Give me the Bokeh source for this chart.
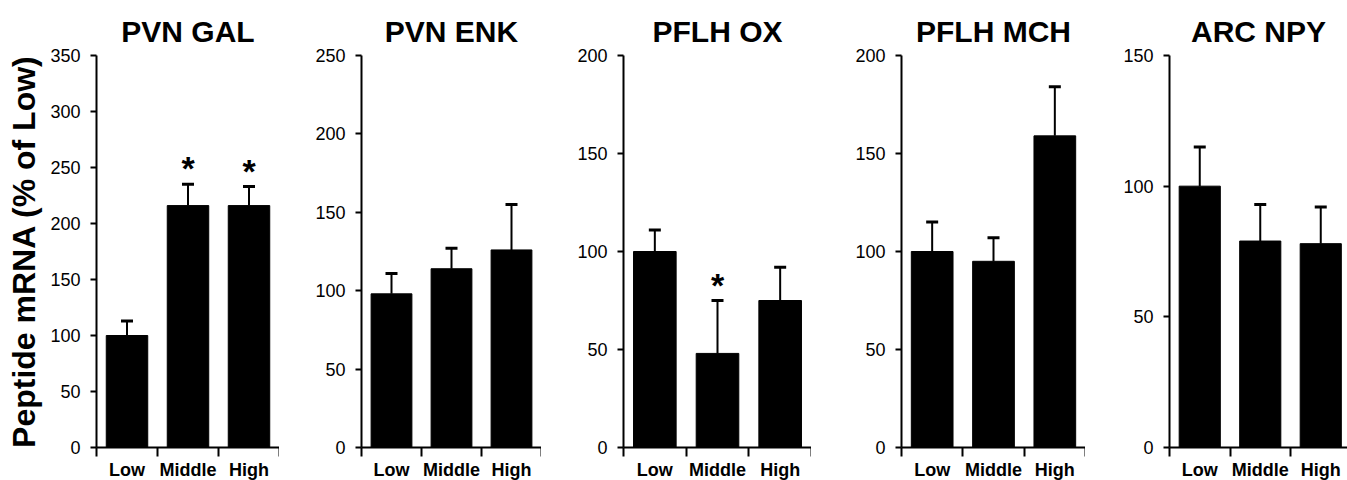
from bokeh.plotting import figure
from bokeh.layouts import row
from bokeh.models import ColumnDataSource, Range1d, FixedTicker, Whisker, TeeHead
from bokeh.core.properties import value
from bokeh.embed import file_html
from bokeh.resources import INLINE

categories = ["Low", "Middle", "High"]
titles = ["PVN GAL", "PVN ENK", "PFLH OX", "PFLH MCH", "ARC NPY"]
means_gal = [100, 216, 216]
sem_gal = [13, 19, 17]
means_enk = [98, 114, 126]
sem_enk = [13, 13, 29]
means_ox = [100, 48, 75]
sem_ox = [11, 27, 17]
means_mch = [100, 95, 159]
sem_mch = [15, 12, 25]
means_npy = [100, 79, 78]
sem_npy = [15, 14, 14]
sig_gal = ["", "*", "*"]
sig_enk = ["", "", ""]
sig_ox = ["", "*", ""]
sig_mch = ["", "", ""]
sig_npy = ["", "", ""]
y_max = [350, 250, 200, 200, 150]
y_step = 50
y_label = "Peptide mRNA (% of Low)"

all_means = [means_gal, means_enk, means_ox, means_mch, means_npy]
all_sems = [sem_gal, sem_enk, sem_ox, sem_mch, sem_npy]
all_sig = [sig_gal, sig_enk, sig_ox, sig_mch, sig_npy]

FONT = "Liberation Sans"
frame_w = [183, 180, 188, 184, 178]
border_l = [96, 82, 82, 90, 84]
cat_px = 60.5
FRAME_H = 392

figs = []
for i in range(5):
    n = len(categories)
    xs = [k + 0.5 for k in range(n)]
    upper = [m + s for m, s in zip(all_means[i], all_sems[i])]
    src = ColumnDataSource(dict(x=xs, mean=all_means[i], upper=upper, sig=all_sig[i]))
    x_end = min(n, frame_w[i] / cat_px) if i == 4 else n
    p = figure(frame_width=frame_w[i], frame_height=FRAME_H,
               x_range=Range1d(0, x_end), y_range=Range1d(0, y_max[i]),
               output_backend="svg", toolbar_location=None,
               min_border_left=border_l[i], min_border_right=0,
               min_border_top=55, min_border_bottom=33,
               title=titles[i])
    p.title.text_font = FONT
    p.title.text_font_size = "30px"
    p.title.text_font_style = "bold"
    p.title.align = "center"
    p.title.text_color = "black"
    p.title.standoff = 16
    p.outline_line_color = None
    p.xgrid.visible = False
    p.ygrid.visible = False
    p.background_fill_color = "white"
    p.border_fill_color = "white"

    p.vbar(x="x", top="mean", bottom=0, width=0.68, source=src,
           fill_color="black", line_color="black")
    w = Whisker(base="x", upper="upper", lower="mean", source=src, dimension="height",
                line_color="black", line_width=2,
                upper_head=TeeHead(size=12, line_width=3, line_color="black"),
                lower_head=None)
    p.add_layout(w)
    p.text(x="x", y="upper", text="sig", source=src, text_font=value(FONT),
           text_font_size="34px", text_font_style="bold", text_align="center",
           text_baseline="alphabetic", y_offset=-16, text_color="black")

    xa = p.xaxis[0]
    xa.ticker = FixedTicker(ticks=xs, minor_ticks=list(range(n + 1)))
    xa.major_label_overrides = {x: c for x, c in zip(xs, categories)}
    xa.major_tick_line_color = None
    xa.major_tick_out = 0
    xa.major_tick_in = 0
    xa.minor_tick_out = 9
    xa.minor_tick_in = 0
    xa.minor_tick_line_width = 2
    xa.minor_tick_line_color = "black"
    xa.axis_line_width = 2
    xa.axis_line_color = "black"
    xa.major_label_text_font = FONT
    xa.major_label_text_font_size = "18px"
    xa.major_label_text_font_style = "bold"
    xa.major_label_text_color = "black"
    xa.major_label_standoff = 3

    ya = p.yaxis[0]
    ya.ticker = FixedTicker(ticks=list(range(0, y_max[i] + 1, y_step)), minor_ticks=[])
    ya.major_tick_out = 6
    ya.major_tick_in = 0
    ya.major_tick_line_width = 2
    ya.major_tick_line_color = "black"
    ya.axis_line_width = 2
    ya.axis_line_color = "black"
    ya.major_label_text_font = FONT
    ya.major_label_text_font_size = "18px"
    ya.major_label_text_color = "black"
    ya.major_label_standoff = 10
    if i == 0:
        ya.axis_label = y_label
        ya.axis_label_text_font = FONT
        ya.axis_label_text_font_size = "32px"
        ya.axis_label_text_font_style = "bold"
        ya.axis_label_text_color = "black"
        ya.axis_label_standoff = 5
    figs.append(p)

layout = row(*figs, spacing=0)
open("out.html", "w").write(file_html(layout, INLINE))
